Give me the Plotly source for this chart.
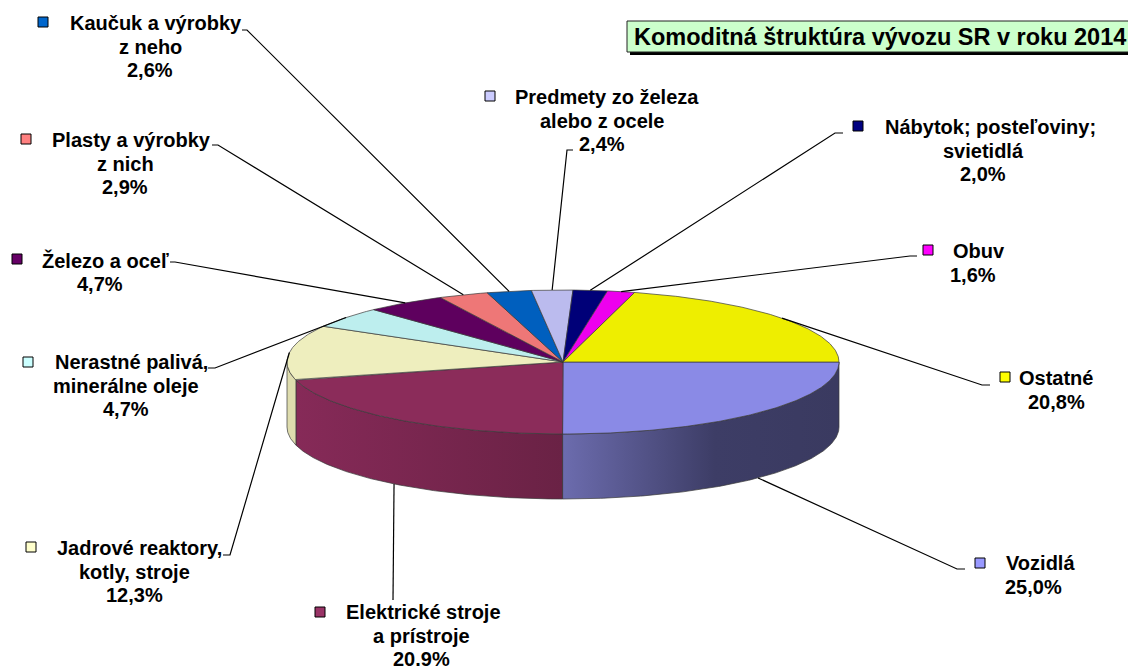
import numpy as np
import plotly.graph_objects as go

# ---------------- data ----------------
categories = ["Vozidlá", "Elektrické stroje a prístroje", "Jadrové reaktory, kotly, stroje",
              "Nerastné palivá, minerálne oleje", "Železo a oceľ", "Plasty a výrobky z nich",
              "Kaučuk a výrobky z neho", "Predmety zo železa alebo z ocele",
              "Nábytok; posteľoviny; svietidlá", "Obuv", "Ostatné"]
shares = [25.0, 20.9, 12.3, 4.7, 4.7, 2.9, 2.6, 2.4, 2.0, 1.6, 20.8]
pct_text = ["25,0%", "20.9%", "12,3%", "4,7%", "4,7%", "2,9%", "2,6%", "2,4%", "2,0%", "1,6%", "20,8%"]
label_lines = [
    ["Vozidlá"],
    ["Elektrické stroje", "a prístroje"],
    ["Jadrové reaktory,", "kotly, stroje"],
    ["Nerastné palivá,", "minerálne oleje"],
    ["Železo a oceľ"],
    ["Plasty a výrobky", "z nich"],
    ["Kaučuk a výrobky", "z neho"],
    ["Predmety zo železa", "alebo z ocele"],
    ["Nábytok; posteľoviny;", "svietidlá"],
    ["Obuv"],
    ["Ostatné"],
]
title_text = "Komoditná štruktúra vývozu SR v roku 2014"

# ---------------- styles / layout constants ----------------
key_colors = ["#9999FF", "#993366", "#FFFFCC", "#CCFFFF", "#660066", "#FF8080",
              "#0066CC", "#CCCCFF", "#000080", "#FF00FF", "#FFFF00"]
top_colors = ["#8a8ae6", "#8b2c5a", "#eeeebe", "#bdeeee", "#5e005e", "#ee7777",
              "#005fbe", "#bbbbee", "#000078", "#ee00ee", "#eeee00"]
side_scales = {
    0: [[0, "#6c6cae"], [0.55, "#3d3d66"], [1, "#3a3a60"]],
    1: [[0, "#862a58"], [1, "#6a2245"]],
    2: [[0, "#dedcae"], [1, "#dedcae"]],
}
W, H = 1136, 666
OFF = 8  # default page body margin
CX, CY, RX, RY, DEPTH = 563, 362, 276, 72, 65
FONT = "Arial, Liberation Sans, sans-serif"

# label layout: key marker, first line centre, other lines centre x, leader elbows
marker_pos = [(980, 563), (320, 612), (31, 547), (28, 362), (17, 259), (26, 139),
              (43, 22), (490, 96), (858, 126), (928, 250), (1005, 377)]
line1_pos = [(1040, 563), (423, 612), (139, 548), (131, 362), (105, 260), (131, 140),
             (156, 23), (607, 97), (990, 127), (979, 251), (1056, 378)]
other_x = [1033, 421, 134, 126, 100, 125, 150, 602, 983, 973, 1056]
LINE_GAP = 23.5
elbows = [
    [(957, 569), (965, 569)],
    [(393, 600)],
    [(230, 555), (223, 555)],
    [(215, 368), (208, 368)],
    [(175, 262), (170, 262)],
    [(218, 145), (212, 145)],
    [(247, 30), (242, 30)],
    [(567, 150), (573, 150)],
    [(835, 133), (843, 133)],
    [(910, 256), (917, 256)],
    [(982, 385), (990, 385)],
]

# ---------------- geometry from data ----------------
total = sum(shares)
bounds = np.concatenate([[0], np.cumsum(shares) / total * 360.0])


def arc(t0, t1, dy=0.0):
    n = max(4, int(abs(t1 - t0)) * 2 + 2)
    t = np.radians(np.linspace(t0, t1, n))
    return CX + RX * np.cos(t), CY + RY * np.sin(t) + dy


fig = go.Figure()

# side faces (front half only: 0..180 deg, screen y downward)
for i in range(len(shares)):
    a, b = max(bounds[i], 0), min(bounds[i + 1], 180)
    if a >= b:
        continue
    xt, yt = arc(a, b)
    xb, yb = arc(b, a, DEPTH)
    xs = np.concatenate([xt, xb, xt[:1]])
    ys = np.concatenate([yt, yb, yt[:1]])
    fig.add_trace(go.Scatter(
        x=xs, y=ys, mode="lines", fill="toself",
        fillgradient=dict(type="horizontal", colorscale=side_scales.get(i, [[0, top_colors[i]], [1, top_colors[i]]])),
        line=dict(color="#3a3a3a", width=0.7), hoverinfo="skip"))

# top faces
for i in range(len(shares)):
    xa, ya = arc(bounds[i], bounds[i + 1])
    xs = np.concatenate([[CX], xa, [CX]])
    ys = np.concatenate([[CY], ya, [CY]])
    fig.add_trace(go.Scatter(
        x=xs, y=ys, mode="lines", fill="toself", fillcolor=top_colors[i],
        line=dict(color="#3a3a3a", width=0.7), hoverinfo="skip"))

# leader lines
for i in range(len(shares)):
    mid = np.radians((bounds[i] + bounds[i + 1]) / 2)
    px = CX + RX * np.cos(mid)
    py = CY + RY * np.sin(mid) + (DEPTH if np.sin(mid) > 0 else 0)
    xs = [px] + [p[0] for p in elbows[i]]
    ys = [py] + [p[1] for p in elbows[i]]
    fig.add_trace(go.Scatter(x=xs, y=ys, mode="lines",
                             line=dict(color="black", width=1.2), hoverinfo="skip"))

# legend keys
fig.add_trace(go.Scatter(
    x=[p[0] for p in marker_pos], y=[p[1] for p in marker_pos], mode="markers",
    marker=dict(symbol="square", size=10, color=key_colors, line=dict(color="black", width=1)),
    hoverinfo="skip"))

annotations = []
for i in range(len(shares)):
    lines = label_lines[i] + [pct_text[i]]
    for k, txt in enumerate(lines):
        x = line1_pos[i][0] if k == 0 else other_x[i]
        y = line1_pos[i][1] + k * LINE_GAP
        annotations.append(dict(x=x, y=y, xref="x", yref="y", text=txt, showarrow=False,
                                xanchor="center", yanchor="middle",
                                font=dict(family=FONT, size=20, color="black", weight="bold")))

annotations.append(dict(x=879.5, y=37, xref="x", yref="y", text=title_text, showarrow=False,
                        xanchor="center", yanchor="middle",
                        font=dict(family=FONT, size=23.5, color="black", weight="bold")))

shapes = [
    dict(type="rect", xref="x", yref="y", x0=630, y0=24, x1=1135, y1=55,
         fillcolor="black", line=dict(width=0), layer="below"),
    dict(type="rect", xref="x", yref="y", x0=627, y0=21, x1=1132, y1=52,
         fillcolor="#ccffcc", line=dict(color="#222222", width=1), layer="below"),
]

fig.update_layout(
    width=W - OFF, height=H - OFF, margin=dict(l=0, r=0, t=0, b=0),
    paper_bgcolor="white", plot_bgcolor="white", showlegend=False, hovermode=False,
    xaxis=dict(range=[OFF, W], visible=False, fixedrange=True),
    yaxis=dict(range=[H, OFF], visible=False, fixedrange=True),
    annotations=annotations, shapes=shapes,
)

fig.write_html("out.html")
